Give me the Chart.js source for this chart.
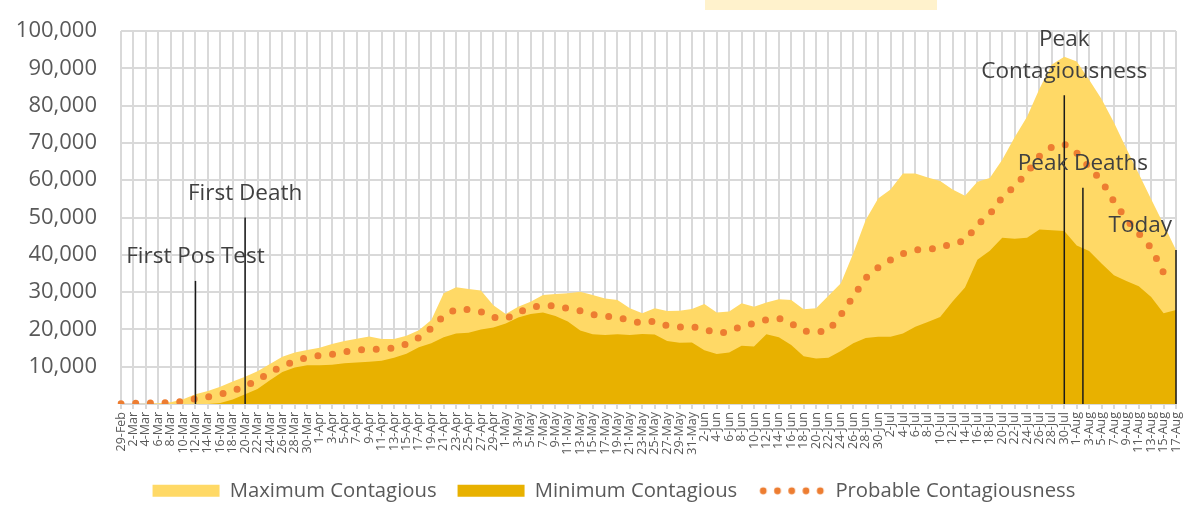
<!DOCTYPE html>
<html>
<head>
<meta charset="utf-8">
<script src="https://cdn.jsdelivr.net/npm/chart.js@4/dist/chart.umd.min.js"></script>
<style>
  body { margin: 0; background: #fff; }
  #wrap { position: relative; width: 1191px; height: 505px; overflow: hidden; }
  #band { position: absolute; left: 705px; top: 0; width: 232px; height: 10px; background: #FFF2CC; }
</style>
</head>
<body>
<div id="wrap">
  <canvas id="chart" width="1191" height="505"></canvas>
  <div id="band"></div>
</div>
<script>
// one category every 2 days
const dates = [
  "29-Feb", "2-Mar", "4-Mar", "6-Mar", "8-Mar", "10-Mar", "12-Mar", "14-Mar", "16-Mar", "18-Mar",
  "20-Mar", "22-Mar", "24-Mar", "26-Mar", "28-Mar", "30-Mar", "1-Apr", "3-Apr", "5-Apr", "7-Apr",
  "9-Apr", "11-Apr", "13-Apr", "15-Apr", "17-Apr", "19-Apr", "21-Apr", "23-Apr", "25-Apr", "27-Apr",
  "29-Apr", "1-May", "3-May", "5-May", "7-May", "9-May", "11-May", "13-May", "15-May", "17-May",
  "19-May", "21-May", "23-May", "25-May", "27-May", "29-May", "31-May", "2-Jun", "4-Jun", "6-Jun",
  "8-Jun", "10-Jun", "12-Jun", "14-Jun", "16-Jun", "18-Jun", "20-Jun", "22-Jun", "24-Jun", "26-Jun",
  "28-Jun", "30-Jun", "2-Jul", "4-Jul", "6-Jul", "8-Jul", "10-Jul", "12-Jul", "14-Jul", "16-Jul",
  "18-Jul", "20-Jul", "22-Jul", "24-Jul", "26-Jul", "28-Jul", "30-Jul", "1-Aug", "3-Aug", "5-Aug",
  "7-Aug", "9-Aug", "11-Aug", "13-Aug", "15-Aug", "17-Aug"
];

const maxContagious = [
  0, 0, 100, 200, 500, 1300, 2600, 3500, 4600, 6000,
  7300, 8800, 10700, 12700, 13800, 14500, 15100, 16100, 16900, 17500,
  18100, 17400, 17400, 18300, 19800, 22500, 29700, 31300, 30800, 30400,
  26500, 24100, 26100, 27400, 29200, 29500, 29700, 30100, 29200, 28300,
  27900, 25700, 24300, 25700, 24900, 25000, 25500, 26800, 24500, 24800,
  27000, 26100, 27200, 28100, 27900, 25400, 25700, 29000, 32400, 40400,
  49300, 55100, 57500, 61800, 61800, 60700, 59800, 57500, 55800, 59600,
  60600, 65500, 71500, 77000, 84500, 91000, 93100, 91800, 86900, 81800,
  75500, 68500, 61700, 54900, 48200, 41300
];

const minContagious = [
  0, 0, 0, 0, 0, 0, 0, 0, 300, 1200,
  2600, 4000, 6400, 8600, 9800, 10400, 10400, 10500, 10900, 11100,
  11300, 11600, 12400, 13500, 15200, 16300, 17900, 18900, 19100, 20000,
  20500, 21600, 23200, 24100, 24500, 23600, 22100, 19700, 18700, 18500,
  18700, 18500, 18800, 18600, 16900, 16400, 16500, 14400, 13400, 13800,
  15600, 15400, 18700, 17900, 15800, 12800, 12200, 12400, 14200, 16300,
  17700, 18000, 18000, 18900, 20700, 22000, 23300, 27500, 31200, 38700,
  41100, 44600, 44300, 44600, 46800, 46600, 46400, 42500, 41000, 37700,
  34500, 33000, 31600, 28700, 24300, 25200
];

const probable = [
  100, 200, 200, 300, 400, 700, 1400, 1900, 2600, 3500,
  4800, 6300, 8500, 10100, 11500, 12500, 13000, 13300, 14000, 14500,
  14700, 14700, 15000, 16100, 17800, 20300, 23600, 25400, 25300, 24700,
  23200, 22900, 24500, 26000, 26300, 26400, 25600, 25000, 24000, 23500,
  23300, 22300, 21700, 22200, 21000, 20600, 20800, 20000, 19000, 19300,
  20900, 21600, 22600, 23000, 21600, 19600, 19300, 19600, 23900, 28800,
  33800, 36600, 38600, 40300, 41300, 41500, 41800, 43200, 43700, 48000,
  50900, 55400, 58400, 62000, 66400, 68900, 69700, 67300, 63500, 59800,
  54300, 49500, 45700, 41800, 35200, null
];

const yTicks = [0, 10000, 20000, 30000, 40000, 50000, 60000, 70000, 80000, 90000, 100000];

// event markers: category index (2-day steps), top of line, label lines
const markerIdx = [6, 10, 76, 77.5, 85];
const markerTop = [33000, 50000, 82800, 58000, 41300];
const markerText = [["First Pos Test"], ["First Death"], ["Peak", "Contagiousness"], ["Peak Deaths"], ["Today"]];
const markerAlign = ["center", "center", "center", "center", "right"];

const LEGEND_PAD = 21;
const LEGEND_FONT = 20.3;
const LEGEND_H = LEGEND_FONT + LEGEND_PAD + 10;
const PAD_LEFT = 10;

// legend swatch for the dotted series
const dotSwatch = document.createElement('canvas');
dotSwatch.width = 67;
dotSwatch.height = 12;
(function () {
    const c = dotSwatch.getContext('2d');
    c.fillStyle = '#ED7D31';
    for (let i = 0; i < 5; i++) {
        c.beginPath();
        c.arc(5 + i * 14.25, 6, 3.4, 0, Math.PI * 2);
        c.fill();
    }
})();

const markers = {
    id: 'markers',
    afterLayout(chart) {
        // legend row sits a bit right of the canvas centre
        chart.legend.left = 52;
    },
    afterDatasetsDraw(chart) {
        const {ctx, scales: {x, y}} = chart;
        ctx.save();
        ctx.font = '22.5px "Open Sans"';
        ctx.fillStyle = '#404040';
        ctx.textBaseline = 'middle';
        markerIdx.forEach((idx, k) => {
            const px = x.getPixelForValue(idx);
            const top = y.getPixelForValue(markerTop[k]);
            const bottom = y.getPixelForValue(0);
            ctx.strokeStyle = '#1a1a1a';
            ctx.lineWidth = 1.5;
            ctx.beginPath();
            ctx.moveTo(px, top);
            ctx.lineTo(px, bottom);
            ctx.stroke();

            const lines = markerText[k];
            ctx.textAlign = markerAlign[k];
            const tx = markerAlign[k] === 'right' ? px - 4 : px;
            lines.forEach((t, j) => {
                ctx.fillText(t, tx, top - 24 - (lines.length - 1 - j) * 32);
            });
        });
        ctx.restore();
    }
};

new Chart(document.getElementById('chart'), {
    type: 'line',
    data: {
        labels: dates,
        datasets: [
            {
                label: 'Probable Contagiousness',
                data: probable,
                borderColor: '#ED7D31',
                borderWidth: 7,
                borderDash: [0, 14.7],
                borderCapStyle: 'round',
                borderJoinStyle: 'round',
                pointRadius: 0,
                fill: false
            },
            {
                label: 'Minimum Contagious',
                data: minContagious,
                backgroundColor: '#E8B100',
                borderColor: 'rgba(0,0,0,0)',
                borderWidth: 0,
                pointRadius: 0,
                fill: 'origin'
            },
            {
                label: 'Maximum Contagious',
                data: maxContagious,
                backgroundColor: '#FFD966',
                borderColor: 'rgba(0,0,0,0)',
                borderWidth: 0,
                pointRadius: 0,
                fill: 'origin'
            }
        ]
    },
    options: {
        responsive: false,
        animation: false,
        layout: {
            padding: {left: PAD_LEFT, right: 15, top: 31, bottom: -6}
        },
        scales: {
            x: {
                border: {display: false},
                grid: {
                    color: '#D9D9D9',
                    lineWidth: 2,
                    tickLength: 5,
                    tickColor: '#D9D9D9'
                },
                ticks: {
                    autoSkip: false,
                    minRotation: 90,
                    maxRotation: 90,
                    padding: 3,
                    color: '#595959',
                    font: {family: 'Open Sans', size: 12.5}
                },
                afterFit(scale) {
                    scale.height = 505 + 6 - LEGEND_H - 404;
                    scale.paddingLeft = 0;
                    scale.paddingRight = 0;
                }
            },
            y: {
                min: 0,
                max: 100000,
                border: {display: false},
                grid: {
                    color: '#D9D9D9',
                    lineWidth: 2,
                    drawTicks: false
                },
                afterBuildTicks(scale) {
                    scale.ticks = yTicks.map(v => ({value: v}));
                },
                ticks: {
                    padding: 24,
                    color: '#595959',
                    font: {family: 'Open Sans', size: 22},
                    callback: v => v === 0 ? '' : v.toLocaleString('en-US')
                },
                afterFit(scale) {
                    scale.width = 121 - PAD_LEFT;
                    scale.paddingTop = 0;
                    scale.paddingBottom = 0;
                }
            }
        },
        plugins: {
            tooltip: {enabled: false},
            legend: {
                position: 'bottom',
                labels: {
                    usePointStyle: true,
                    pointStyleWidth: 67,
                    boxHeight: 12,
                    padding: LEGEND_PAD,
                    color: '#595959',
                    font: {family: 'Open Sans', size: LEGEND_FONT},
                    generateLabels(chart) {
                        const items = Chart.defaults.plugins.legend.labels.generateLabels(chart);
                        items.forEach(it => {
                            it.pointStyle = it.datasetIndex === 0 ? dotSwatch : 'rect';
                            it.lineWidth = 0;
                        });
                        return items.reverse();
                    }
                }
            }
        }
    },
    plugins: [markers]
});
</script>
</body>
</html>
